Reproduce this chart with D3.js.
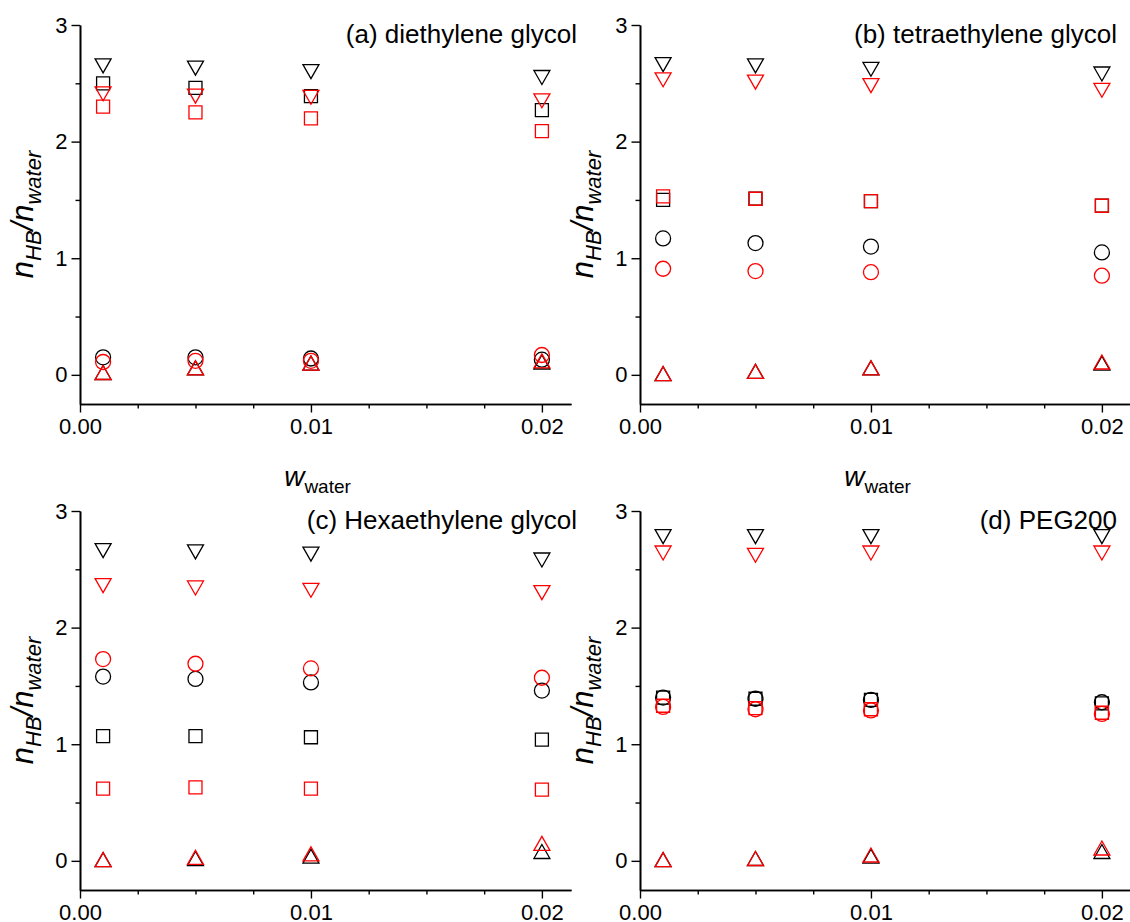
<!DOCTYPE html>
<html>
<head>
<meta charset="utf-8">
<script src="https://cdn.jsdelivr.net/npm/d3@7"></script>
<style>
  body { margin: 0; background: #fff; }
  svg { display: block; font-family: "Liberation Sans", Arial, sans-serif; }
</style>
</head>
<body>
<div id="chart"></div>
<script>
// x positions (mass fraction of water)
var wWater = [0.001, 0.005, 0.01, 0.02];

// (a) diethylene glycol
var aDownBlack = [2.65, 2.63, 2.60, 2.55];
var aDownRed   = [2.41, 2.39, 2.38, 2.35];
var aSqBlack   = [2.50, 2.46, 2.39, 2.27];
var aSqRed     = [2.30, 2.25, 2.20, 2.09];
var aCircBlack = [0.15, 0.15, 0.14, 0.13];
var aCircRed   = [0.11, 0.12, 0.12, 0.17];
var aUpBlack   = [0.02, 0.06, 0.10, 0.11];
var aUpRed     = [0.02, 0.06, 0.10, 0.12];

// (b) tetraethylene glycol
var bDownBlack = [2.66, 2.65, 2.62, 2.58];
var bDownRed   = [2.53, 2.51, 2.48, 2.44];
var bSqBlack   = [1.50, 1.51, 1.49, 1.45];
var bSqRed     = [1.53, 1.51, 1.49, 1.45];
var bCircBlack = [1.17, 1.13, 1.10, 1.05];
var bCircRed   = [0.91, 0.89, 0.88, 0.85];
var bUpBlack   = [0.01, 0.03, 0.06, 0.10];
var bUpRed     = [0.01, 0.03, 0.06, 0.11];

// (c) Hexaethylene glycol
var cDownBlack = [2.66, 2.65, 2.63, 2.58];
var cDownRed   = [2.36, 2.34, 2.32, 2.30];
var cSqBlack   = [1.07, 1.07, 1.06, 1.04];
var cSqRed     = [0.62, 0.63, 0.62, 0.61];
var cCircBlack = [1.58, 1.56, 1.53, 1.46];
var cCircRed   = [1.73, 1.69, 1.65, 1.57];
var cUpBlack   = [0.01, 0.02, 0.04, 0.08];
var cUpRed     = [0.01, 0.03, 0.06, 0.15];

// (d) PEG200
var dDownBlack = [2.78, 2.78, 2.78, 2.78];
var dDownRed   = [2.64, 2.62, 2.64, 2.64];
var dSqBlack   = [1.40, 1.39, 1.38, 1.35];
var dSqRed     = [1.33, 1.31, 1.30, 1.27];
var dCircBlack = [1.40, 1.39, 1.38, 1.36];
var dCircRed   = [1.32, 1.30, 1.29, 1.26];
var dUpBlack   = [0.01, 0.02, 0.04, 0.08];
var dUpRed     = [0.01, 0.02, 0.05, 0.11];

var xMajor = [0, 0.01, 0.02];
var xMinor = [0.0025, 0.005, 0.0075, 0.0125, 0.015, 0.0175];
var yMajor = [0, 1, 2, 3];
var yMinor = [0.5, 1.5, 2.5];

var panels = [
    {title: "(a) diethylene glycol", left: 80, top: 25, titleRight: 497, xTitle: true,
     series: [aDownBlack, aSqBlack, aCircBlack, aUpBlack, aDownRed, aSqRed, aCircRed, aUpRed]},
    {title: "(b) tetraethylene glycol", left: 640, top: 25, titleRight: 477, xTitle: true,
     series: [bDownBlack, bSqBlack, bCircBlack, bUpBlack, bDownRed, bSqRed, bCircRed, bUpRed]},
    {title: "(c) Hexaethylene glycol", left: 80, top: 511, titleRight: 497, xTitle: false,
     series: [cDownBlack, cSqBlack, cCircBlack, cUpBlack, cDownRed, cSqRed, cCircRed, cUpRed]},
    {title: "(d) PEG200", left: 640, top: 511, titleRight: 477, xTitle: false,
     series: [dDownBlack, dSqBlack, dCircBlack, dUpBlack, dDownRed, dSqRed, dCircRed, dUpRed]}
];
var shapes = ["down", "square", "circle", "up", "down", "square", "circle", "up"];
var colors = ["#000", "#000", "#000", "#000", "#ff0000", "#ff0000", "#ff0000", "#ff0000"];

var W = 1130, H = 922;
var plotW = 491, plotH = 379;

var svg = d3.select("#chart").append("svg")
    .attr("width", W)
    .attr("height", H);

// marker paths, centred on the data point
function markerPath(shape) {
    var tw = 16, th = 14, sq = 13, r = 7.5;
    if (shape === "down") return "M" + (-tw / 2) + "," + (-th / 2) + "L" + (tw / 2) + "," + (-th / 2) + "L0," + (th / 2) + "Z";
    if (shape === "up") return "M0," + (-th / 2) + "L" + (tw / 2) + "," + (th / 2) + "L" + (-tw / 2) + "," + (th / 2) + "Z";
    if (shape === "square") return "M" + (-sq / 2) + "," + (-sq / 2) + "h" + sq + "v" + sq + "h" + (-sq) + "Z";
    return d3.arc()({innerRadius: 0, outerRadius: r, startAngle: 0, endAngle: 2 * Math.PI});
}

panels.forEach(function(p) {
    var xScale = d3.scaleLinear().domain([0, 0.02126]).range([0, plotW]);
    var yScale = d3.scaleLinear().domain([-0.25, 3]).range([plotH, 0]);

    var g = svg.append("g")
        .attr("transform", "translate(" + p.left + "," + p.top + ")");

    // x axis
    var xg = g.append("g").attr("transform", "translate(0," + plotH + ")");
    xg.call(d3.axisBottom(xScale).tickValues(xMinor).tickSize(4.5).tickSizeOuter(0).tickFormat(""));
    xg.append("g").call(d3.axisBottom(xScale).tickValues(xMajor).tickSize(8.5).tickSizeOuter(0).tickPadding(6)
        .tickFormat(d3.format(".2f")));

    // y axis
    var yg = g.append("g");
    yg.call(d3.axisLeft(yScale).tickValues(yMinor).tickSize(4.5).tickSizeOuter(0).tickFormat(""));
    yg.append("g").call(d3.axisLeft(yScale).tickValues(yMajor).tickSize(8.5).tickSizeOuter(0).tickPadding(4)
        .tickFormat(d3.format("d")));

    g.selectAll(".domain").attr("stroke", "#000").attr("stroke-width", 1.6);
    g.selectAll(".tick line").attr("stroke", "#000").attr("stroke-width", 1.4);
    g.selectAll(".tick text")
        .attr("fill", "#000")
        .style("font-size", "22px")
        .style("font-family", "'Liberation Sans', Arial, sans-serif");

    // y axis title
    var yt = g.append("text")
        .attr("transform", "translate(" + (-47) + "," + (plotH / 2) + ") rotate(-90)")
        .attr("text-anchor", "middle")
        .style("font-style", "italic")
        .style("font-size", "31px");
    yt.append("tspan").text("n");
    yt.append("tspan").attr("dy", 8).style("font-size", "22px").text("HB");
    yt.append("tspan").attr("dy", -8).text("/n");
    yt.append("tspan").attr("dy", 8).style("font-size", "22px").text("water");

    // x axis title
    if (p.xTitle) {
        var xt = g.append("text")
            .attr("x", plotW / 2 - 8)
            .attr("y", plotH + 82)
            .attr("text-anchor", "middle")
            .style("font-size", "28px");
        xt.append("tspan").style("font-style", "italic").text("w");
        xt.append("tspan").attr("dy", 7).style("font-size", "19px").text("water");
    }

    // panel title
    g.append("text")
        .attr("x", p.titleRight)
        .attr("y", 18)
        .attr("text-anchor", "end")
        .style("font-size", "26px")
        .text(p.title);

    // markers
    p.series.forEach(function(vals, si) {
        g.append("g")
            .selectAll("path")
            .data(vals)
            .enter()
            .append("path")
            .attr("d", markerPath(shapes[si]))
            .attr("transform", function(d, i) {
                return "translate(" + xScale(wWater[i]) + "," + yScale(d) + ")";
            })
            .attr("fill", "none")
            .attr("stroke", colors[si])
            .attr("stroke-width", 1.3);
    });
});
</script>
</body>
</html>
